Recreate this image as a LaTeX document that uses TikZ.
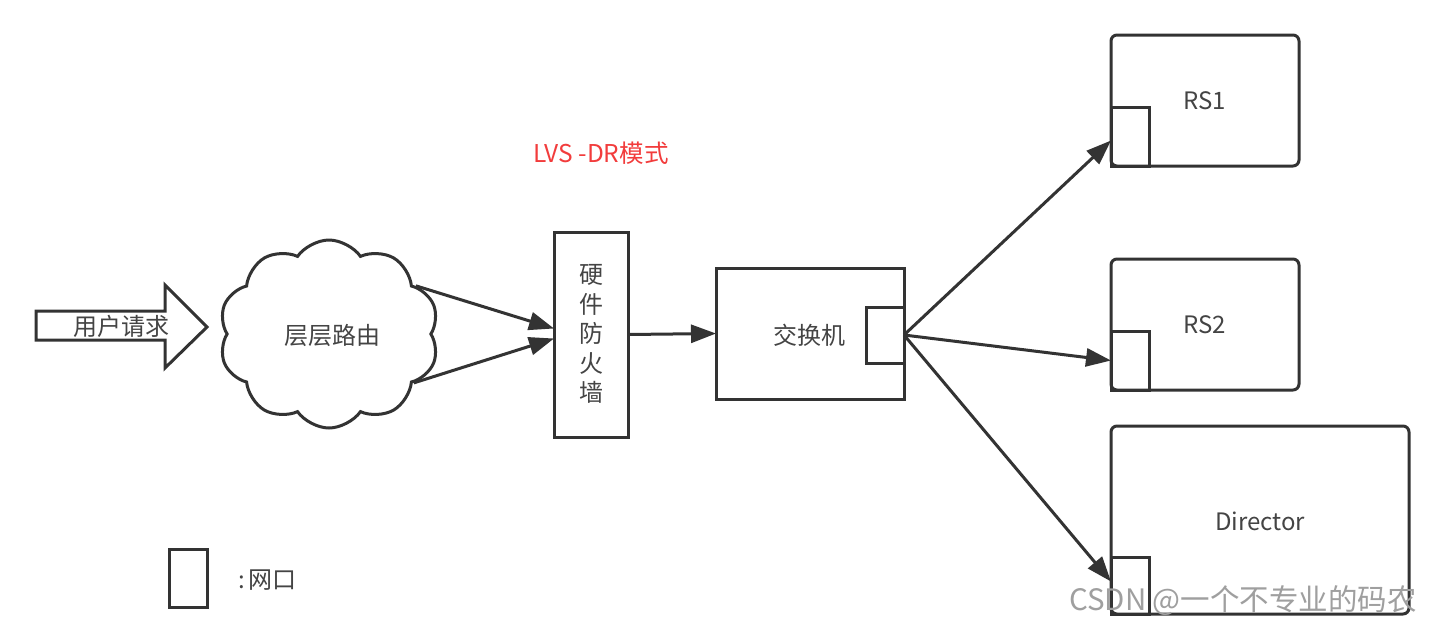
\documentclass[tikz,border=0pt]{standalone}
\usepackage{fontspec}
\setmainfont{Noto Sans CJK SC}
\usetikzlibrary{shapes.symbols,arrows.meta}
\definecolor{ink}{HTML}{333333}
\definecolor{txt}{HTML}{444444}
\definecolor{redtxt}{HTML}{F23C3C}
\tikzset{
  box/.style={draw=ink, line width=3pt, fill=white, inner sep=0pt, outer sep=0pt},
  rbox/.style={box, rounded corners=6pt},
  port/.style={draw=ink, line width=3pt, inner sep=0pt, outer sep=0pt},
  lbl/.style={text=txt, font=\fontsize{24}{28}\selectfont, inner sep=0pt},
  conn/.style={draw=ink, line width=3pt, -{Triangle[length=25pt,width=18pt]}},
}
\begin{document}
\begin{tikzpicture}[x=1pt,y=-1pt]
\useasboundingbox[fill=white] (0,0) rectangle (1431,625);
% user request block arrow
\draw[ink, line width=3pt, line join=miter, fill=white] (36,311) -- (165,311) -- (165,285) -- (207,327) -- (165,368) -- (165,340) -- (36,340) -- cycle;
\node[lbl] (req) at (121,326) {用户请求};
% cloud
\node[cloud, cloud puffs=10, cloud puff arc=110, aspect=1.15, draw=ink, line width=3pt, fill=white, minimum width=220pt, minimum height=188pt, inner sep=0pt] (cloud) at (329,334) {};
\node[lbl] (route) at (332,335) {层层路由};
% firewall
\node[box, minimum width=74pt, minimum height=205pt] (fw) at (591,334.5) {};
\node[lbl, align=center, font=\fontsize{24}{29.5}\selectfont] (fwt) at (591,334) {硬\\件\\防\\火\\墙};
% switch
\node[box, minimum width=188pt, minimum height=131pt] (sw) at (810,333.5) {};
\node[port, minimum width=38pt, minimum height=56pt] (swport) at (885,335) {};
\node[lbl] (swt) at (809,335) {交换机};
% RS1
\node[rbox, minimum width=188pt, minimum height=131pt] (rs1) at (1205,100.5) {};
\node[port, minimum width=38pt, minimum height=59pt, anchor=south west] (rs1port) at (rs1.south west) {};
\node[lbl] (rs1t) at (1205,101) {RS1};
% RS2
\node[rbox, minimum width=188pt, minimum height=131pt] (rs2) at (1205,324.5) {};
\node[port, minimum width=38pt, minimum height=59pt, anchor=south west] (rs2port) at (rs2.south west) {};
\node[lbl] (rs2t) at (1205,325) {RS2};
% Director
\node[rbox, minimum width=298pt, minimum height=188pt] (dir) at (1260,520) {};
\node[port, minimum width=38pt, minimum height=57pt, anchor=south west] (dirport) at (dir.south west) {};
\node[lbl] (dirt) at (1260,521) {Director};
% connectors
\draw[conn] (cloud.29) -- ([yshift=6pt]fw.west);
\draw[conn] (cloud.-30) -- ([yshift=-4pt]fw.west);
\draw[conn] (fw.east) -- (sw.west);
\draw[conn] (swport.east) -- ([yshift=-4pt]rs1port.west);
\draw[conn] (swport.east) -- (rs2port.west);
\draw[conn] (swport.east) -- ([yshift=4pt]dirport.west);
% legend
\node[port, minimum width=38pt, minimum height=58pt] (legend) at (188,578) {};
\node[lbl, anchor=west] (legendt) at (238,580) {:\,网口};
% title
\node[text=redtxt, font=\fontsize{24.5}{28}\selectfont, inner sep=0pt] (title) at (601,153) {LVS -DR模式};
% watermark
\node[text=gray!75, font=\fontsize{29.5}{33}\selectfont, inner sep=0pt, anchor=east] (wm) at (1417,601) {CSDN @一个不专业的码农};
\end{tikzpicture}
\end{document}
